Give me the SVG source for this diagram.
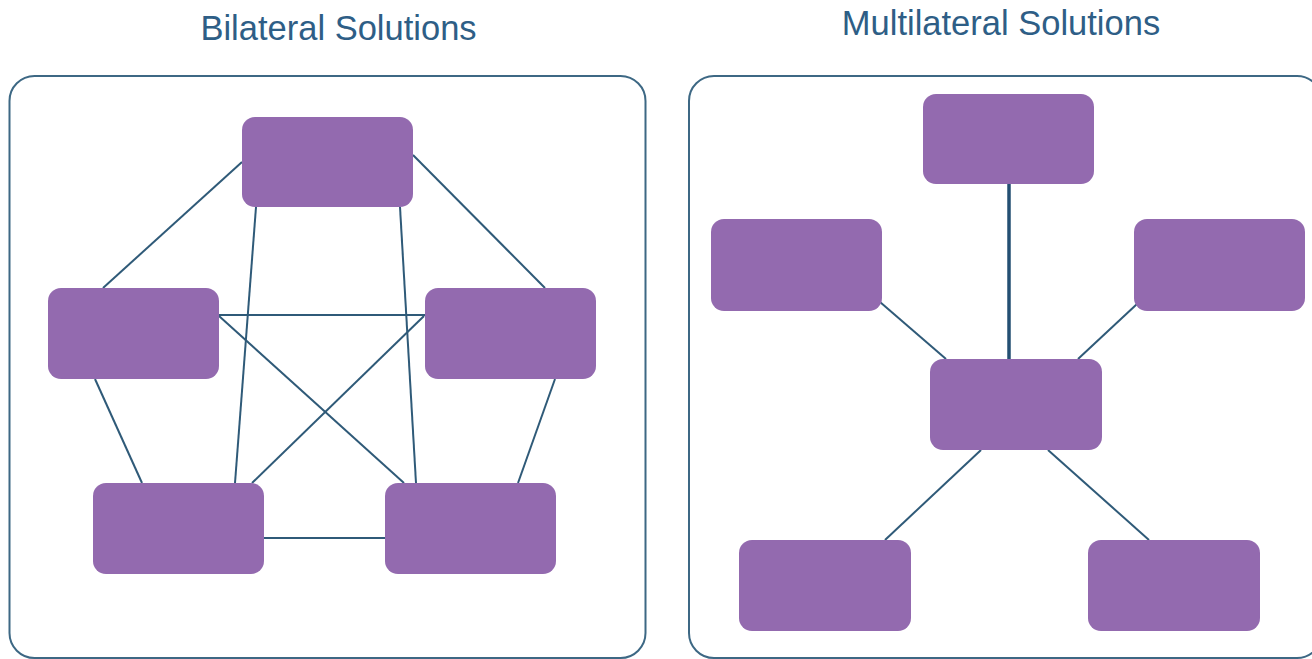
<svg xmlns="http://www.w3.org/2000/svg" width="1312" height="659" viewBox="0 0 1312 659">
<style>
.title{font-family:"Liberation Sans",Arial,sans-serif;font-size:34.5px;fill:#2E5E86;text-anchor:middle}
.panel{fill:#ffffff;stroke:#3D6884;stroke-width:2}
.node{fill:#936AAF}
.conn line{stroke:#2F5A78;stroke-width:2}
</style>
<rect width="1312" height="659" fill="#ffffff"/>
<text class="title" x="338.5" y="40">Bilateral Solutions</text>
<text class="title" x="1001" y="35">Multilateral Solutions</text>
<rect id="panel-bilateral" class="panel" x="9.5" y="76" width="636" height="582" rx="25"/>
<rect id="panel-multilateral" class="panel" x="689" y="76" width="633" height="582" rx="25"/>
<g id="connectors" class="conn">
<line x1="242" y1="162" x2="103" y2="288"/>
<line x1="413" y1="155" x2="545" y2="288"/>
<line x1="256" y1="207" x2="235" y2="483"/>
<line x1="400" y1="207" x2="416" y2="483"/>
<line x1="219" y1="315" x2="425" y2="315"/>
<line x1="219" y1="316" x2="404" y2="483"/>
<line x1="424" y1="316" x2="252" y2="483"/>
<line x1="95" y1="379" x2="142" y2="483"/>
<line x1="555" y1="379" x2="518" y2="483"/>
<line x1="264" y1="538" x2="385" y2="538"/>
<line x1="1009" y1="184" x2="1009" y2="359" style="stroke:#234F72;stroke-width:3.5"/>
<line x1="880" y1="302" x2="946" y2="359"/>
<line x1="1137" y1="304" x2="1078" y2="359"/>
<line x1="981" y1="450" x2="885" y2="540"/>
<line x1="1048" y1="450" x2="1149" y2="540"/>
</g>
<g id="b-top"><rect class="node" x="242" y="117" width="171" height="90" rx="13"/></g>
<g id="b-left"><rect class="node" x="48" y="288" width="171" height="91" rx="13"/></g>
<g id="b-right"><rect class="node" x="425" y="288" width="171" height="91" rx="13"/></g>
<g id="b-bottom-left"><rect class="node" x="93" y="483" width="171" height="91" rx="13"/></g>
<g id="b-bottom-right"><rect class="node" x="385" y="483" width="171" height="91" rx="13"/></g>
<g id="m-top"><rect class="node" x="923" y="94" width="171" height="90" rx="13"/></g>
<g id="m-left"><rect class="node" x="711" y="219" width="171" height="92" rx="13"/></g>
<g id="m-right"><rect class="node" x="1134" y="219" width="171" height="92" rx="13"/></g>
<g id="m-center"><rect class="node" x="930" y="359" width="172" height="91" rx="13"/></g>
<g id="m-bottom-left"><rect class="node" x="739" y="540" width="172" height="91" rx="13"/></g>
<g id="m-bottom-right"><rect class="node" x="1088" y="540" width="172" height="91" rx="13"/></g>
</svg>
